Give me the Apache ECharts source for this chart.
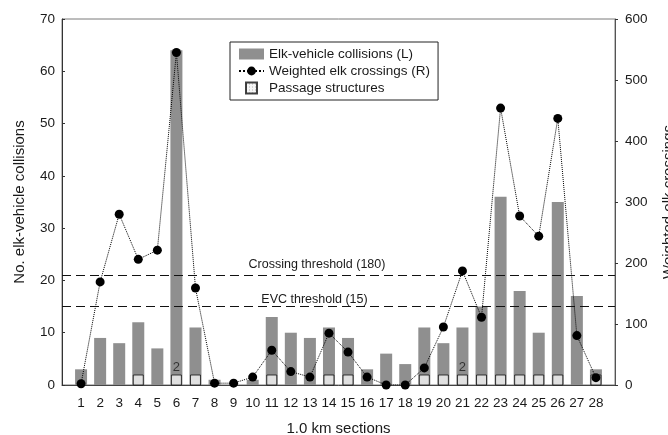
<!DOCTYPE html>
<html>
<head>
<meta charset="utf-8">
<script src="https://cdn.jsdelivr.net/npm/echarts@6/dist/echarts.min.js"></script>
<style>
  html, body { margin: 0; padding: 0; background: #fff; }
  #chart { width: 668px; height: 435px; }
</style>
</head>
<body>
<div id="chart"></div>
<script>
// ---- Data ----
const sections = [1,2,3,4,5,6,7,8,9,10,11,12,13,14,15,16,17,18,19,20,21,22,23,24,25,26,27,28];
const collisions = [3,9,8,12,7,64,11,1,0,1,13,10,9,11,9,3,6,4,11,8,11,15,36,18,10,35,17,3];
const crossings = [2,169,280,206,221,545,159,3,3,13,57,22,13,85,54,13,0,0,28,95,187,111,454,277,244,437,81,12];
const passageSections = [4,6,7,11,14,15,19,20,21,22,23,24,25,26,28];
const passageCounts   = [1,2,1,1,1,1,1,1,2,1,1,1,1,1,1];
const leftTicks = { min: 0, max: 70, interval: 10 };
const rightTicks = { min: 0, max: 600, interval: 100 };
const evcThreshold = 15;
const crossingThreshold = 180;
const names = {
  bar: 'Elk-vehicle collisions (L)',
  line: 'Weighted elk crossings (R)',
  passage: 'Passage structures'
};

// stipple pattern for passage structures
const pc = document.createElement('canvas');
pc.width = 3; pc.height = 3;
const pctx = pc.getContext('2d');
pctx.fillStyle = '#f4f4f4'; pctx.fillRect(0, 0, 3, 3);
pctx.fillStyle = '#9a9a9a'; pctx.fillRect(1, 1, 1, 1);
const stipple = { image: pc, repeat: 'repeat' };

const FONT = 'Liberation Sans, Arial, sans-serif';

const chart = echarts.init(document.getElementById('chart'), null, { renderer: 'canvas' });
chart.setOption({
  animation: false,
  backgroundColor: '#ffffff',
  textStyle: { fontFamily: FONT, color: '#1a1a1a' },
  grid: {
    left: 62, right: 53, top: 19, bottom: 50,
    outerBoundsMode: 'none', containLabel: false,
    show: true, borderColor: '#7a7a7a', borderWidth: 1
  },
  legend: {
    left: 230, top: 42,
    orient: 'vertical',
    itemWidth: 25, itemHeight: 11, itemGap: 3,
    padding: [5, 8, 5, 8],
    borderColor: '#222', borderWidth: 1,
    backgroundColor: '#fff',
    textStyle: { fontFamily: FONT, fontSize: 13.5, color: '#1a1a1a' },
    data: [
      { name: names.bar, icon: 'rect' },
      { name: names.line },
      { name: names.passage, icon: 'path://M0,0H10V10H0Z' }
    ]
  },
  xAxis: {
    type: 'value', min: 0, max: 29, interval: 1,
    name: '1.0 km sections', nameLocation: 'middle', nameGap: 36,
    nameTextStyle: { fontFamily: FONT, fontSize: 15, color: '#1a1a1a' },
    axisLine: { show: true, lineStyle: { color: '#444', width: 1 } },
    axisTick: { show: false },
    splitLine: { show: false },
    axisLabel: {
      fontFamily: FONT, fontSize: 13.5, color: '#1a1a1a', margin: 11,
      formatter: v => (sections.indexOf(v) >= 0 ? String(v) : '')
    }
  },
  yAxis: [
    {
      type: 'value', min: leftTicks.min, max: leftTicks.max, interval: leftTicks.interval,
      position: 'left',
      name: 'No. elk-vehicle collisions', nameLocation: 'middle', nameGap: 35, nameRotate: 90,
      nameTextStyle: { fontFamily: FONT, fontSize: 15, color: '#1a1a1a' },
      axisLine: { show: true, lineStyle: { color: '#333', width: 1 } },
      axisTick: { show: true, inside: true, length: 3, lineStyle: { color: '#333' } },
      splitLine: { show: false },
      axisLabel: { fontFamily: FONT, fontSize: 13.5, color: '#1a1a1a', margin: 7 }
    },
    {
      type: 'value', min: rightTicks.min, max: rightTicks.max, interval: rightTicks.interval,
      position: 'right',
      name: 'Weighted elk crossings', nameLocation: 'middle', nameGap: 46, nameRotate: 90,
      nameTextStyle: { fontFamily: FONT, fontSize: 15, color: '#1a1a1a' },
      axisLine: { show: true, lineStyle: { color: '#555', width: 1 } },
      axisTick: { show: true, inside: false, length: 3, lineStyle: { color: '#333' } },
      splitLine: { show: false },
      axisLabel: { fontFamily: FONT, fontSize: 13.5, color: '#1a1a1a', margin: 10 }
    }
  ],
  series: [
    {
      name: names.bar,
      type: 'bar',
      yAxisIndex: 0,
      barWidth: 12,
      z: 2,
      itemStyle: { color: '#8f8f8f' },
      data: sections.map((s, i) => [s, collisions[i]]),
      markLine: {
        silent: true, symbol: 'none', animation: false,
        lineStyle: { color: '#111', type: [9, 5], width: 1 },
        label: {
          show: true, position: 'insideMiddleTop', distance: 1,
          fontFamily: FONT, fontSize: 12.5, color: '#1a1a1a',
          padding: [0, 48, 0, 0],
          formatter: 'EVC threshold (' + evcThreshold + ')'
        },
        data: [{ yAxis: evcThreshold }]
      }
    },
    {
      name: names.passage,
      type: 'scatter',
      yAxisIndex: 0,
      z: 3,
      symbol: 'rect',
      symbolSize: 10,
      symbolOffset: [0, -5],
      itemStyle: { color: stipple, borderColor: '#111', borderWidth: 1 },
      label: {
        show: true, position: 'top', distance: 1,
        fontFamily: FONT, fontSize: 13, color: '#1a1a1a',
        formatter: p => (passageCounts[p.dataIndex] > 1 ? String(passageCounts[p.dataIndex]) : '')
      },
      data: passageSections.map(s => [s, 0])
    },
    {
      name: names.line,
      type: 'line',
      yAxisIndex: 1,
      z: 4,
      symbol: 'circle',
      symbolSize: 9,
      itemStyle: { color: '#000' },
      lineStyle: { color: '#000', width: 1, type: 'dotted' },
      data: sections.map((s, i) => [s, crossings[i]]),
      markLine: {
        silent: true, symbol: 'none', animation: false,
        lineStyle: { color: '#111', type: [9, 5], width: 1 },
        label: {
          show: true, position: 'insideMiddleTop', distance: 4,
          fontFamily: FONT, fontSize: 12.5, color: '#1a1a1a',
          padding: [0, 43, 0, 0],
          formatter: 'Crossing threshold (' + crossingThreshold + ')'
        },
        data: [{ yAxis: crossingThreshold }]
      }
    }
  ]
});
</script>
</body>
</html>
